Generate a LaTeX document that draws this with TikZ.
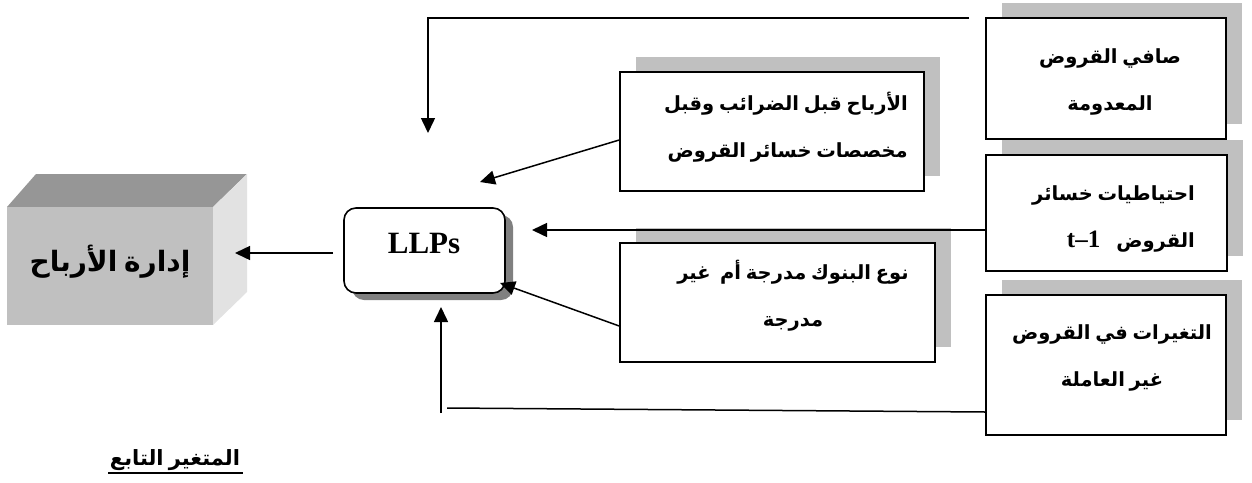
\documentclass[tikz,border=0pt]{standalone}
\usepackage{fontspec}
\setmainfont{Liberation Serif}
\newfontfamily\arabicfont[Script=Arabic,WordSpace=0.7]{DejaVu Sans}
\TeXXeTstate=1
\usetikzlibrary{arrows.meta,shadows}
\definecolor{shadowgray}{HTML}{C0C0C0}
\definecolor{darkshadow}{HTML}{808080}
\definecolor{cubefront}{HTML}{C0C0C0}
\definecolor{cubetop}{HTML}{969696}
\definecolor{cubeside}{HTML}{E2E2E2}
\begin{document}
\begin{tikzpicture}[x=1pt,y=-1pt,
  varbox/.style={draw=black,line width=1.6pt,fill=white,inner sep=0pt,
    general shadow={fill=shadowgray,shadow xshift=16pt,shadow yshift=15pt}},
  artext/.style={font=\arabicfont\bfseries\fontsize{19.5}{47}\selectfont,inner sep=0pt},
  arr/.style={line width=1.5pt,-{Triangle[length=15pt,width=14pt]}},
  plain/.style={line width=1.5pt}]
\useasboundingbox (0,0) rectangle (1252,482);

% 3D box (dependent variable)
\fill[cubetop] (7,207) -- (36,174) -- (247,174) -- (213,207) -- cycle;
\fill[cubeside] (213,207) -- (247,174) -- (247,292) -- (213,325) -- cycle;
\node[fill=cubefront,minimum width=206pt,minimum height=118pt,inner sep=0pt] (cube) at (110,266) {};
\node[font=\arabicfont\bfseries\fontsize{28}{34}\selectfont] (cubetxt) at (110,262) {\beginR إدارة الأرباح\endR};

% LLPs
\node[draw=black,line width=1.6pt,fill=white,rounded corners=12pt,minimum width=161pt,minimum height=85pt,inner sep=0pt,
  general shadow={fill=darkshadow,shadow xshift=8pt,shadow yshift=-7pt}] (llps) at (424.5,250.5) {};
\node[font=\bfseries\fontsize{31}{34}\selectfont] (llpstxt) at (424,243) {LLPs};

% independent variable boxes
\node[varbox,minimum width=240pt,minimum height=121pt] (b1) at (1106,78.5) {};
\node[varbox,minimum width=241pt,minimum height=116pt] (b2) at (1106.5,213) {};
\node[varbox,minimum width=240pt,minimum height=140pt] (b3) at (1106,365) {};
\node[varbox,minimum width=304pt,minimum height=119pt] (b4) at (772,131.5) {};
\node[varbox,minimum width=315pt,minimum height=119pt] (b5) at (777.5,302.5) {};

\node[artext,align=center] (t1) at (1110,82) {\beginR صافي القروض\endR\\\beginR المعدومة\endR};
\node[artext,align=right,anchor=east] (t4) at (908,127) {\beginR الأرباح قبل الضرائب وقبل\endR\\\beginR مخصصات خسائر القروض\endR};
\node[artext,align=center] (t5) at (793,296) {\beginR نوع البنوك مدرجة أم \ غير\endR\\\beginR مدرجة\endR};
\node[artext,align=right,anchor=east] (t2) at (1195,219) {\beginR احتياطيات خسائر\endR\\{\rmfamily\bfseries\fontsize{25}{26}\selectfont t\textendash1}\hspace{16pt}\beginR القروض\endR};
\node[artext,align=center] (t3) at (1112,358) {\beginR التغيرات في القروض\endR\\\beginR غير العاملة\endR};

% label
\node[font=\arabicfont\bfseries\fontsize{21}{24}\selectfont,inner sep=0pt] (lbl) at (175,460) {\beginR المتغير التابع\endR};
\draw[line width=1.3pt] (108,473) -- (243,473);

% connectors
\coordinate (c0) at (333,253);
\coordinate (c0e) at (235,253);
\draw[arr] (c0) -- (c0e);

\coordinate (c1a) at (969,18);
\coordinate (c1b) at (428,133);
\draw[arr] (c1a) -| (c1b);

\coordinate (c4e) at (480,182);
\draw[arr] ([yshift=-8.5pt]b4.west) -- (c4e);

\coordinate (c2e) at (532,230);
\draw[arr] ([yshift=-17pt]b2.west) -- (c2e);

\coordinate (c5e) at (500,283);
\draw[arr] ([yshift=-23.5pt]b5.west) -- (c5e);

\coordinate (c3a) at (447,408);
\draw[plain] ([yshift=-47pt]b3.west) -- (c3a);
\coordinate (c3b) at (441,413);
\coordinate (c3e) at (441,307);
\draw[arr] (c3b) -- (c3e);
\end{tikzpicture}
\end{document}
